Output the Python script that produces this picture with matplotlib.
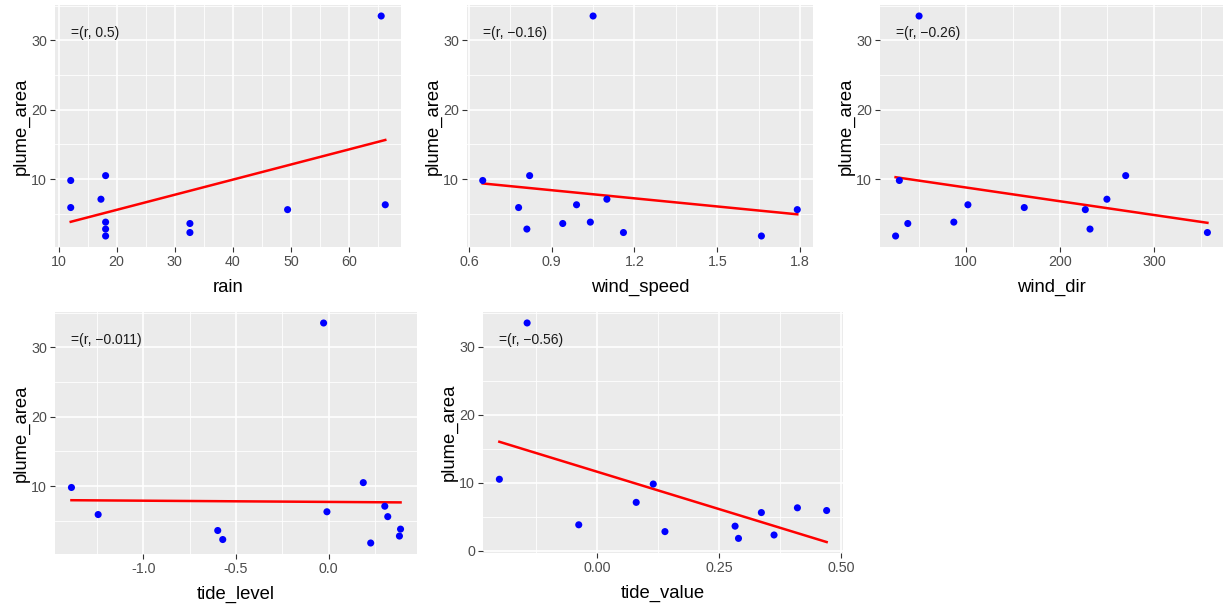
import matplotlib

matplotlib.use("Agg")
import matplotlib.pyplot as plt
import numpy as np
from matplotlib.ticker import FixedLocator

plt.rcParams["font.family"] = ["Liberation Sans", "DejaVu Sans"]
plt.rcParams["axes.unicode_minus"] = False

# observations (one entry per sampling event)
plume_area = [33.5, 10.5, 9.8, 7.1, 6.3, 5.9, 5.6, 3.8, 3.6, 2.8, 2.3, 1.8]
rain = [65.5, 18.1, 12.1, 17.3, 66.2, 12.1, 49.4, 18.1, 32.6, 18.1, 32.6, 18.1]
wind_speed = [1.05, 0.82, 0.65, 1.10, 0.99, 0.78, 1.79, 1.04, 0.94, 0.81, 1.16, 1.66]
wind_dir = [50, 270, 29, 250, 102, 162, 227, 87, 38, 232, 357, 25]
tide_level = [-0.027, 0.187, -1.387, 0.303, -0.009, -1.243, 0.319, 0.388, -0.598, 0.382, -0.571, 0.227]
tide_value = [-0.144, -0.201, 0.115, 0.080, 0.411, 0.471, 0.337, -0.038, 0.283, 0.139, 0.363, 0.290]

variables = ["rain", "wind_speed", "wind_dir", "tide_level", "tide_value"]
cor_labels = ["=(r, 0.5)", "=(r, \u22120.16)", "=(r, \u22120.26)", "=(r, \u22120.011)", "=(r, \u22120.56)"]
x_ticks = [
    [10, 20, 30, 40, 50, 60],
    [0.6, 0.9, 1.2, 1.5, 1.8],
    [100, 200, 300],
    [-1.0, -0.5, 0.0],
    [0.0, 0.25, 0.5],
]
x_tick_labels = [
    ["10", "20", "30", "40", "50", "60"],
    ["0.6", "0.9", "1.2", "1.5", "1.8"],
    ["100", "200", "300"],
    ["-1.0", "-0.5", "0.0"],
    ["0.00", "0.25", "0.50"],
]

# panel boxes in pixels: left, right, top, bottom
W, H = 1223, 606
boxes = [
    (55, 401, 5, 247),
    (467, 813, 5, 247),
    (880, 1223, 5, 247),
    (55, 417, 312, 554),
    (483, 843, 312, 553),
]

data = {
    "rain": rain,
    "wind_speed": wind_speed,
    "wind_dir": wind_dir,
    "tide_level": tide_level,
    "tide_value": tide_value,
}

BG = "#EBEBEB"
TICK_COLOR = "#4D4D4D"


def expand(lo, hi, frac=0.05):
    pad = (hi - lo) * frac
    return lo - pad, hi + pad


def minor_between(ticks, lo, hi):
    step = ticks[1] - ticks[0]
    out = []
    t = ticks[0] - step / 2
    while t < hi:
        if t > lo:
            out.append(t)
        t += step
    return out


fig = plt.figure(figsize=(W / 100, H / 100), dpi=100)

y = np.array(plume_area, dtype=float)
for i, name in enumerate(variables):
    l, r, t, b = boxes[i]
    ax = fig.add_axes([l / W, 1 - b / H, (r - l) / W, (b - t) / H])
    ax.set_facecolor(BG)
    for s in ax.spines.values():
        s.set_visible(False)

    x = np.array(data[name], dtype=float)
    slope, intercept = np.polyfit(x, y, 1)
    xs = np.linspace(x.min(), x.max(), 80)
    ys = slope * xs + intercept

    xlo, xhi = expand(x.min(), x.max())
    ylo, yhi = expand(min(y.min(), ys.min()), max(y.max(), ys.max()))
    ax.set_xlim(xlo, xhi)
    ax.set_ylim(ylo, yhi)

    xt = x_ticks[i]
    ax.xaxis.set_major_locator(FixedLocator(xt))
    ax.set_xticklabels(x_tick_labels[i])
    ax.xaxis.set_minor_locator(FixedLocator(minor_between(xt, xlo, xhi)))
    yt = [v for v in [0, 10, 20, 30] if ylo <= v <= yhi]
    ax.yaxis.set_major_locator(FixedLocator(yt))
    ax.yaxis.set_minor_locator(FixedLocator(minor_between([0, 10, 20, 30], ylo, yhi)))

    ax.grid(which="major", color="white", linewidth=1.2)
    ax.grid(which="minor", color="white", linewidth=0.6)
    ax.set_axisbelow(True)
    ax.tick_params(which="major", length=3.3, width=0.8, color="#333333",
                   labelcolor=TICK_COLOR, labelsize=10.3, pad=2.5)
    ax.tick_params(which="minor", length=0)

    ax.plot(xs, ys, color="red", linewidth=1.8, zorder=2)
    ax.scatter(x, y, s=26, color="blue", edgecolors="none", zorder=3)

    ax.text(x.min(), 31.0, cor_labels[i], fontsize=10, color="#1A1A1A",
            ha="left", va="center")
    ax.set_xlabel(name, fontsize=13.3, labelpad=7)
    ax.set_ylabel("plume_area", fontsize=13.3, labelpad=1)

fig.savefig("out.png", dpi=100)
